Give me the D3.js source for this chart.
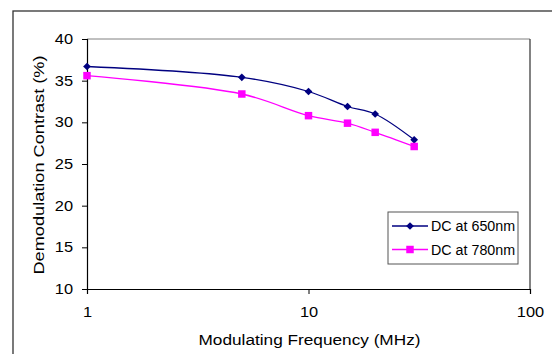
<!DOCTYPE html>
<html><head><meta charset="utf-8">
<script src="https://cdn.jsdelivr.net/npm/d3@7"></script>
<style>body{margin:0;background:#fff}svg{display:block}text{font-family:"Liberation Sans",Arial,sans-serif;fill:#000}</style>
</head><body>
<script>
const frequencies = [1, 5, 10, 15, 20, 30];
const dc650 = [36.7, 35.4, 33.7, 31.9, 31.0, 27.9];
const dc780 = [35.6, 33.4, 30.8, 29.9, 28.8, 27.1];
const seriesNames = ["DC at 650nm", "DC at 780nm"];
const seriesColors = ["#000080", "#FF00FF"];
const yTicks = [10, 15, 20, 25, 30, 35, 40];
const xTicks = [1, 10, 100];

const W = 552, H = 354;
const svg = d3.select("body").append("svg").attr("width", W).attr("height", H);
const pL = 87, pR = 530, pT = 39, pB = 289;
const FONT = "Liberation Sans, Arial, sans-serif";

function stretch(sel, factor) {
  sel.each(function () {
    const w = this.getComputedTextLength();
    d3.select(this).attr("textLength", w * factor).attr("lengthAdjust", "spacingAndGlyphs");
  });
}

// outer chart frame
svg.append("rect").attr("x", 13).attr("y", 11).attr("width", 560).attr("height", 360)
  .attr("fill", "none").attr("stroke", "#333").attr("stroke-width", 1.3);

const x = d3.scaleLog().domain([1, 100]).range([pL, pR]);
const y = d3.scaleLinear().domain([10, 40]).range([pB, pT]);

// plot area border
svg.append("line").attr("x1", pL).attr("x2", pR).attr("y1", pT).attr("y2", pT)
  .attr("stroke", "#808080").attr("stroke-width", 1);
svg.append("line").attr("x1", pR).attr("x2", pR).attr("y1", pT).attr("y2", pB)
  .attr("stroke", "#404040").attr("stroke-width", 1.3);

const yAxis = svg.append("g").attr("transform", `translate(${pL},0)`)
  .call(d3.axisLeft(y).tickValues(yTicks).tickSize(5).tickPadding(9).tickFormat(d3.format("d")));
const xAxis = svg.append("g").attr("transform", `translate(0,${pB})`)
  .call(d3.axisBottom(x).tickValues(xTicks).tickSize(5).tickPadding(13).tickFormat(d3.format("d")));
[yAxis, xAxis].forEach(g => {
  g.select(".domain").attr("stroke", "#000").attr("stroke-width", 1.2);
  g.selectAll(".tick line").attr("stroke", "#000");
  g.selectAll("text").attr("font-size", 14).attr("font-family", FONT).attr("fill", "#000");
  stretch(g.selectAll("text"), 1.17);
});

const series = [dc650, dc780];
const line = d3.line().x((d, i) => x(frequencies[i])).y(d => y(d)).curve(d3.curveCatmullRom.alpha(0.5));
series.forEach((vals, k) => {
  svg.append("path").datum(vals).attr("d", line).attr("fill", "none")
    .attr("stroke", seriesColors[k]).attr("stroke-width", 1.3);
});
const diamond = d3.symbol().type(d3.symbolDiamond2).size(38);
const square = d3.symbol().type(d3.symbolSquare).size(56);
function marker(sel, k) {
  return sel.append("path").attr("d", k === 0 ? diamond() : square()).attr("fill", seriesColors[k]);
}
series.forEach((vals, k) => {
  vals.forEach((v, i) => {
    marker(svg, k).attr("transform", `translate(${x(frequencies[i])},${y(v)})`);
  });
});

// legend
const lg = svg.append("g");
lg.append("rect").attr("x", 388).attr("y", 212).attr("width", 130).attr("height", 52)
  .attr("fill", "#fff").attr("stroke", "#555").attr("stroke-width", 1);
seriesNames.forEach((n, k) => {
  const yy = 226 + k * 23.5;
  lg.append("line").attr("x1", 392).attr("x2", 428).attr("y1", yy).attr("y2", yy)
    .attr("stroke", seriesColors[k]).attr("stroke-width", 1.3);
  marker(lg, k).attr("transform", `translate(410,${yy})`);
  lg.append("text").attr("x", 431).attr("y", yy).attr("dy", "0.36em").attr("font-size", 14).text(n);
});
stretch(lg.selectAll("text"), 1.02);

// axis titles
svg.append("text").attr("x", 309.5).attr("y", 345).attr("text-anchor", "middle").attr("font-size", 14)
  .attr("textLength", 222).attr("lengthAdjust", "spacingAndGlyphs")
  .text("Modulating Frequency (MHz)");
svg.append("text").attr("transform", "translate(44,165) rotate(-90)").attr("text-anchor", "middle")
  .attr("font-size", 14).attr("textLength", 219).attr("lengthAdjust", "spacingAndGlyphs")
  .text("Demodulation Contrast (%)");
</script>
</body></html>
